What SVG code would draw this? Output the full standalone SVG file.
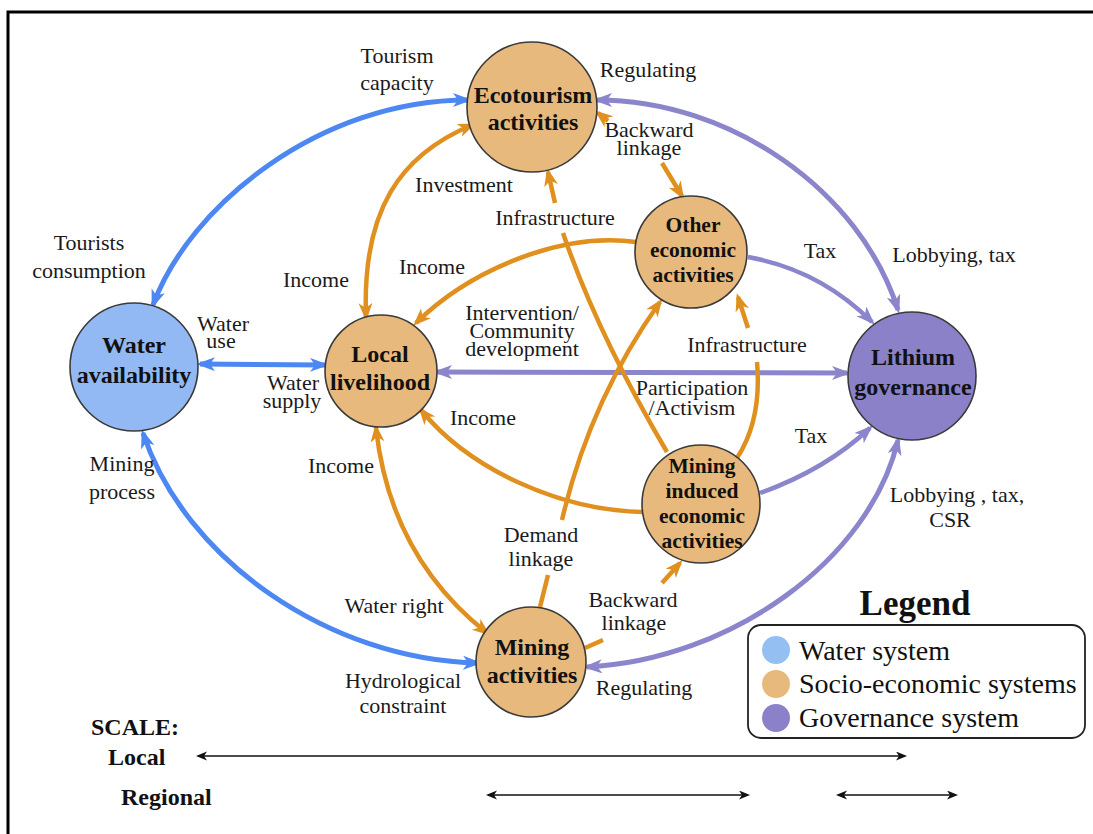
<svg xmlns="http://www.w3.org/2000/svg" width="1093" height="834" viewBox="0 0 1093 834">
<style>
.lbl{font-family:"Liberation Serif","Times New Roman",serif;font-size:22px;fill:#1a1a1a;text-anchor:middle}
.nt{font-family:"Liberation Serif","Times New Roman",serif;font-size:24px;font-weight:bold;fill:#111;text-anchor:middle}
.nts{font-size:21.5px}
.node{stroke:#3a3a3a;stroke-width:1.6}
.w{fill:#92b9f3}.s{fill:#e8b97c}.g{fill:#8a81c9}
.cb{fill:none;stroke:#4d87f2;stroke-width:5}
.cp{fill:none;stroke:#8b85cc;stroke-width:5}
.cpt{fill:none;stroke:#8b85cc;stroke-width:4.5}
.co{fill:none;stroke:#e0901f;stroke-width:4.5}
.sc{fill:none;stroke:#111;stroke-width:1.6}
.st{font-family:"Liberation Serif","Times New Roman",serif;font-size:24px;font-weight:bold;fill:#111}
.lg{font-family:"Liberation Serif","Times New Roman",serif;font-size:28px;fill:#111}
</style>
<defs>
<marker id="ab" markerUnits="userSpaceOnUse" markerWidth="20" markerHeight="16" refX="15" refY="7" orient="auto-start-reverse"><path d="M0,0 L19,7 L0,14 L5,7 z" fill="#4d87f2"/></marker>
<marker id="ap" markerUnits="userSpaceOnUse" markerWidth="20" markerHeight="16" refX="15" refY="7" orient="auto-start-reverse"><path d="M0,0 L19,7 L0,14 L5,7 z" fill="#8b85cc"/></marker>
<marker id="ao" markerUnits="userSpaceOnUse" markerWidth="20" markerHeight="16" refX="14" refY="7" orient="auto-start-reverse"><path d="M0,0 L18,7 L0,14 L5,7 z" fill="#e0901f"/></marker>
<marker id="ak" markerUnits="userSpaceOnUse" markerWidth="12" markerHeight="10" refX="9" refY="4.5" orient="auto-start-reverse"><path d="M0,0 L11,4.5 L0,9 L3,4.5 z" fill="#111"/></marker>
</defs>
<rect width="1093" height="834" fill="#fff"/>
<rect x="8" y="12" width="1100" height="900" fill="none" stroke="#000" stroke-width="3"/>

<g id="connectors">
<path class="cb" d="M153,305 C190,205 320,100 468,100" marker-start="url(#ab)" marker-end="url(#ab)"/>
<path class="cb" d="M143,433 C185,560 330,660 478,663" marker-start="url(#ab)" marker-end="url(#ab)"/>
<path class="cb" d="M200,364 L325,365" marker-start="url(#ab)" marker-end="url(#ab)"/>
<path class="cp" d="M597,100 C730,100 860,190 898,310" marker-start="url(#ap)" marker-end="url(#ap)"/>
<path class="cp" d="M587,667 C730,660 870,560 898,440" marker-start="url(#ap)" marker-end="url(#ap)"/>
<path class="cp" d="M437,372 L847,373" marker-start="url(#ap)" marker-end="url(#ap)"/>
<path class="cpt" d="M748,257 Q820,270 872,322" marker-end="url(#ap)"/>
<path class="cpt" d="M760,493 Q825,470 870,428" marker-end="url(#ap)"/>
<path class="co" d="M472,125 C400,155 362,210 366,317" marker-start="url(#ao)" marker-end="url(#ao)"/>
<path class="co" d="M636,242 C560,232 470,270 416,323" marker-end="url(#ao)"/>
<path class="co" d="M642,512 C560,510 470,470 421,410" marker-end="url(#ao)"/>
<path class="co" d="M376,428 C385,510 420,580 487,633" marker-start="url(#ao)" marker-end="url(#ao)"/>
<path class="co" d="M608,121 L598,113" marker-end="url(#ao)"/>
<path class="co" d="M662,163 L682,196" marker-end="url(#ao)"/>
<path class="co" d="M585,648 L603,640"/>
<path class="co" d="M662,583 L680,563" marker-end="url(#ao)"/>
<path class="co" d="M540,607 L548,575"/>
<path class="co" d="M562,520 Q590,400 660,302" marker-end="url(#ao)"/>
<path class="co" d="M555,203 L548,172" marker-end="url(#ao)"/>
<path class="co" d="M667,452 Q597,333 563,233"/>
<path class="co" d="M737,458 Q762,420 757,362"/>
<path class="co" d="M748,328 L738,297" marker-end="url(#ao)"/>
</g>

<g id="edge-labels">
<text class="lbl" x="397" y="63">Tourism</text>
<text class="lbl" x="397" y="90">capacity</text>
<text class="lbl" x="648" y="77">Regulating</text>
<text class="lbl" x="649" y="137">Backward</text>
<text class="lbl" x="649" y="155">linkage</text>
<text class="lbl" x="464" y="192">Investment</text>
<text class="lbl" x="555" y="225">Infrastructure</text>
<text class="lbl" x="89" y="250">Tourists</text>
<text class="lbl" x="89" y="278">consumption</text>
<text class="lbl" x="316" y="287">Income</text>
<text class="lbl" x="432" y="274">Income</text>
<text class="lbl" x="223" y="331">Water</text>
<text class="lbl" x="221" y="348">use</text>
<text class="lbl" x="293" y="390">Water</text>
<text class="lbl" x="292" y="408">supply</text>
<text class="lbl" x="522" y="320">Intervention/</text>
<text class="lbl" x="522" y="338">Community</text>
<text class="lbl" x="522" y="356">development</text>
<text class="lbl" x="747" y="352">Infrastructure</text>
<text class="lbl" x="692" y="395">Participation</text>
<text class="lbl" x="692" y="415">/Activism</text>
<text class="lbl" x="483" y="425">Income</text>
<text class="lbl" x="820" y="258">Tax</text>
<text class="lbl" x="954" y="262">Lobbying, tax</text>
<text class="lbl" x="811" y="443">Tax</text>
<text class="lbl" x="957" y="502">Lobbying , tax,</text>
<text class="lbl" x="950" y="527">CSR</text>
<text class="lbl" x="122" y="471">Mining</text>
<text class="lbl" x="122" y="499">process</text>
<text class="lbl" x="341" y="473">Income</text>
<text class="lbl" x="541" y="542">Demand</text>
<text class="lbl" x="541" y="566">linkage</text>
<text class="lbl" x="394" y="613">Water right</text>
<text class="lbl" x="633" y="607">Backward</text>
<text class="lbl" x="634" y="630">linkage</text>
<text class="lbl" x="403" y="688">Hydrological</text>
<text class="lbl" x="403" y="713">constraint</text>
<text class="lbl" x="644" y="695">Regulating</text>
</g>

<g id="water-availability">
<circle class="node w" cx="134" cy="367" r="64"/>
<text class="nt" x="134" y="353">Water</text>
<text class="nt" x="134" y="383">availability</text>
</g>
<g id="ecotourism-activities">
<circle class="node s" cx="532" cy="107" r="65"/>
<text class="nt" x="533" y="103">Ecotourism</text>
<text class="nt" x="533" y="130">activities</text>
</g>
<g id="local-livelihood">
<circle class="node s" cx="381" cy="371" r="56"/>
<text class="nt" x="380" y="362">Local</text>
<text class="nt" x="380" y="390">livelihood</text>
</g>
<g id="other-economic-activities">
<circle class="node s" cx="691" cy="252" r="56"/>
<text class="nt nts" x="693" y="232">Other</text>
<text class="nt nts" x="693" y="257">economic</text>
<text class="nt nts" x="693" y="282">activities</text>
</g>
<g id="lithium-governance">
<circle class="node g" cx="912" cy="376" r="64"/>
<text class="nt" x="913" y="365">Lithium</text>
<text class="nt" x="913" y="395">governance</text>
</g>
<g id="mining-induced-economic-activities">
<circle class="node s" cx="701" cy="504" r="59"/>
<text class="nt nts" x="702" y="473">Mining</text>
<text class="nt nts" x="702" y="498">induced</text>
<text class="nt nts" x="702" y="523">economic</text>
<text class="nt nts" x="702" y="548">activities</text>
</g>
<g id="mining-activities">
<circle class="node s" cx="531" cy="662" r="55"/>
<text class="nt" x="532" y="655">Mining</text>
<text class="nt" x="532" y="683">activities</text>
</g>

<g id="legend">
<text x="915" y="615" font-family="Liberation Serif, serif" font-size="35" font-weight="bold" text-anchor="middle" fill="#111">Legend</text>
<rect x="748" y="625" width="337" height="113" rx="13" fill="#fff" stroke="#222" stroke-width="1.8"/>
<circle cx="776" cy="650" r="14" fill="#93bff3"/>
<circle cx="776" cy="684" r="14" fill="#e8b97c"/>
<circle cx="776" cy="718" r="14" fill="#8a81c9"/>
<text class="lg" x="799" y="660">Water system</text>
<text class="lg" x="799" y="693">Socio-economic systems</text>
<text class="lg" x="799" y="727">Governance system</text>
</g>

<g id="scale">
<text class="st" x="91" y="735">SCALE:</text>
<text class="st" x="108" y="765">Local</text>
<text class="st" x="121" y="805">Regional</text>
<path class="sc" d="M198,756 L905,756" marker-start="url(#ak)" marker-end="url(#ak)"/>
<path class="sc" d="M488,795 L748,795" marker-start="url(#ak)" marker-end="url(#ak)"/>
<path class="sc" d="M838,795 L956,795" marker-start="url(#ak)" marker-end="url(#ak)"/>
</g>
</svg>
